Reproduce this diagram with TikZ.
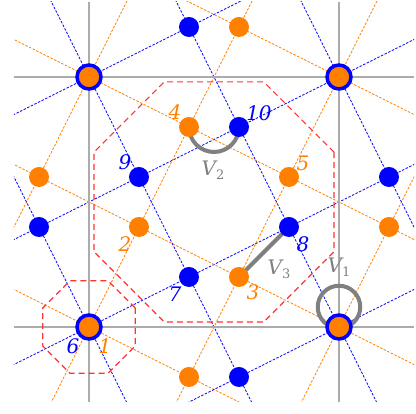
\documentclass[tikz,border=0pt]{standalone}
\usepackage{fontspec}
\setmainfont{DejaVu Serif}
\begin{document}
\begin{tikzpicture}[x=250pt,y=250pt,
  oline/.style={orange, line width=0.8pt, dash pattern=on 2.5pt off 1.5pt},
  bline/.style={blue, line width=0.8pt, dash pattern=on 2.5pt off 1.5pt},
  axisline/.style={gray!65, line width=1.5pt},
  octline/.style={red!80!white, line width=1.2pt, dash pattern=on 6pt off 4pt},
  vedge/.style={gray, line width=4pt},
  odot/.style={circle, fill=orange, minimum size=20pt, inner sep=0pt},
  bdot/.style={circle, fill=blue, minimum size=20pt, inner sep=0pt},
  cdot/.style={circle, fill=orange, draw=blue, line width=3.5pt, minimum size=24pt, inner sep=0pt},
  olab/.style={text=orange, font=\fontsize{20}{20}\selectfont\itshape, inner sep=0pt},
  blab/.style={text=blue, font=\fontsize{20}{20}\selectfont\itshape, inner sep=0pt},
  vlab/.style={text=gray, font=\fontsize{20}{20}\selectfont, inner sep=0pt}
]
\useasboundingbox (-0.356,-0.348) rectangle (1.308,1.308);
% lattice lines
\begin{scope}
\clip (-0.3,-0.3) rectangle (1.3,1.3);
\foreach \k in {-3,...,4} {
  \draw[oline] (\k-4,2) -- (\k+4,-2);
  \draw[oline] ({\k/2-2},-4) -- ({\k/2+2},4);
  \draw[bline] (\k-4,-2) -- (\k+4,2);
  \draw[bline] ({\k/2-2},4) -- ({\k/2+2},-4);
}
\end{scope}
% axes
\draw[axisline] (-0.3,0) -- (1.3,0);
\draw[axisline] (-0.3,1) -- (1.3,1);
\draw[axisline] (0,-0.3) -- (0,1.3);
\draw[axisline] (1,-0.3) -- (1,1.3);
% octagons
\begin{scope}[shift={(0.5,0.5)}]
\draw[octline] (22.5:0.52) -- (67.5:0.52) -- (112.5:0.52) -- (157.5:0.52) -- (202.5:0.52) -- (247.5:0.52) -- (292.5:0.52) -- (337.5:0.52) -- cycle;
\end{scope}
\draw[octline] (22.5:0.2) -- (67.5:0.2) -- (112.5:0.2) -- (157.5:0.2) -- (202.5:0.2) -- (247.5:0.2) -- (292.5:0.2) -- (337.5:0.2) -- cycle;
% positions
\coordinate (c1) at (0,0);
\coordinate (c2) at (0.2,0.4);
\coordinate (c3) at (0.6,0.2);
\coordinate (c4) at (0.4,0.8);
\coordinate (c5) at (0.8,0.6);
\coordinate (c7) at (0.4,0.2);
\coordinate (c8) at (0.8,0.4);
\coordinate (c9) at (0.2,0.6);
\coordinate (c10) at (0.6,0.8);
\coordinate (cr) at (1,0);
% V edges
\draw[vedge] (c1 -| cr) ++(0,0.08) circle[radius=0.085];
\draw[vedge] (c4) arc[start angle=180, end angle=360, radius=0.1];
\draw[vedge] (c3) -- (c8);
% corner points
\node[cdot] (k00) at (c1) {};
\node[cdot] (k10) at (1,0) {};
\node[cdot] (k01) at (0,1) {};
\node[cdot] (k11) at (1,1) {};
% orange points
\node[odot] (o2) at (c2) {};
\node[odot] (o3) at (c3) {};
\node[odot] (o4) at (c4) {};
\node[odot] (o5) at (c5) {};
\node[odot] (oa) at (-0.2,0.6) {};
\node[odot] (ob) at (0.6,1.2) {};
\node[odot] (oc) at (0.4,-0.2) {};
\node[odot] (od) at (1.2,0.4) {};
% blue points
\node[bdot] (b7) at (c7) {};
\node[bdot] (b8) at (c8) {};
\node[bdot] (b9) at (c9) {};
\node[bdot] (b10) at (c10) {};
\node[bdot] (ba) at (0.4,1.2) {};
\node[bdot] (bb) at (1.2,0.6) {};
\node[bdot] (bc) at (-0.2,0.4) {};
\node[bdot] (bd) at (0.6,-0.2) {};
% labels
\node[olab] (l1) at (0.064,-0.076) {1};
\node[olab] (l2) at (0.144,0.332) {2};
\node[olab] (l3) at (0.656,0.14) {3};
\node[olab] (l4) at (0.344,0.86) {4};
\node[olab] (l5) at (0.856,0.656) {5};
\node[blab] (l6) at (-0.064,-0.076) {6};
\node[blab] (l7) at (0.344,0.132) {7};
\node[blab] (l8) at (0.856,0.332) {8};
\node[blab] (l9) at (0.144,0.66) {9};
\node[blab] (l10) at (0.68,0.856) {10};
\node[vlab] (v1) at (1.0,0.24) {\itshape V\raisebox{-0.35ex}{\fontsize{13}{13}\selectfont\upshape 1}};
\node[vlab] (v2) at (0.496,0.628) {\itshape V\raisebox{-0.35ex}{\fontsize{13}{13}\selectfont\upshape 2}};
\node[vlab] (v3) at (0.76,0.232) {\itshape V\raisebox{-0.35ex}{\fontsize{13}{13}\selectfont\upshape 3}};
\end{tikzpicture}
\end{document}
